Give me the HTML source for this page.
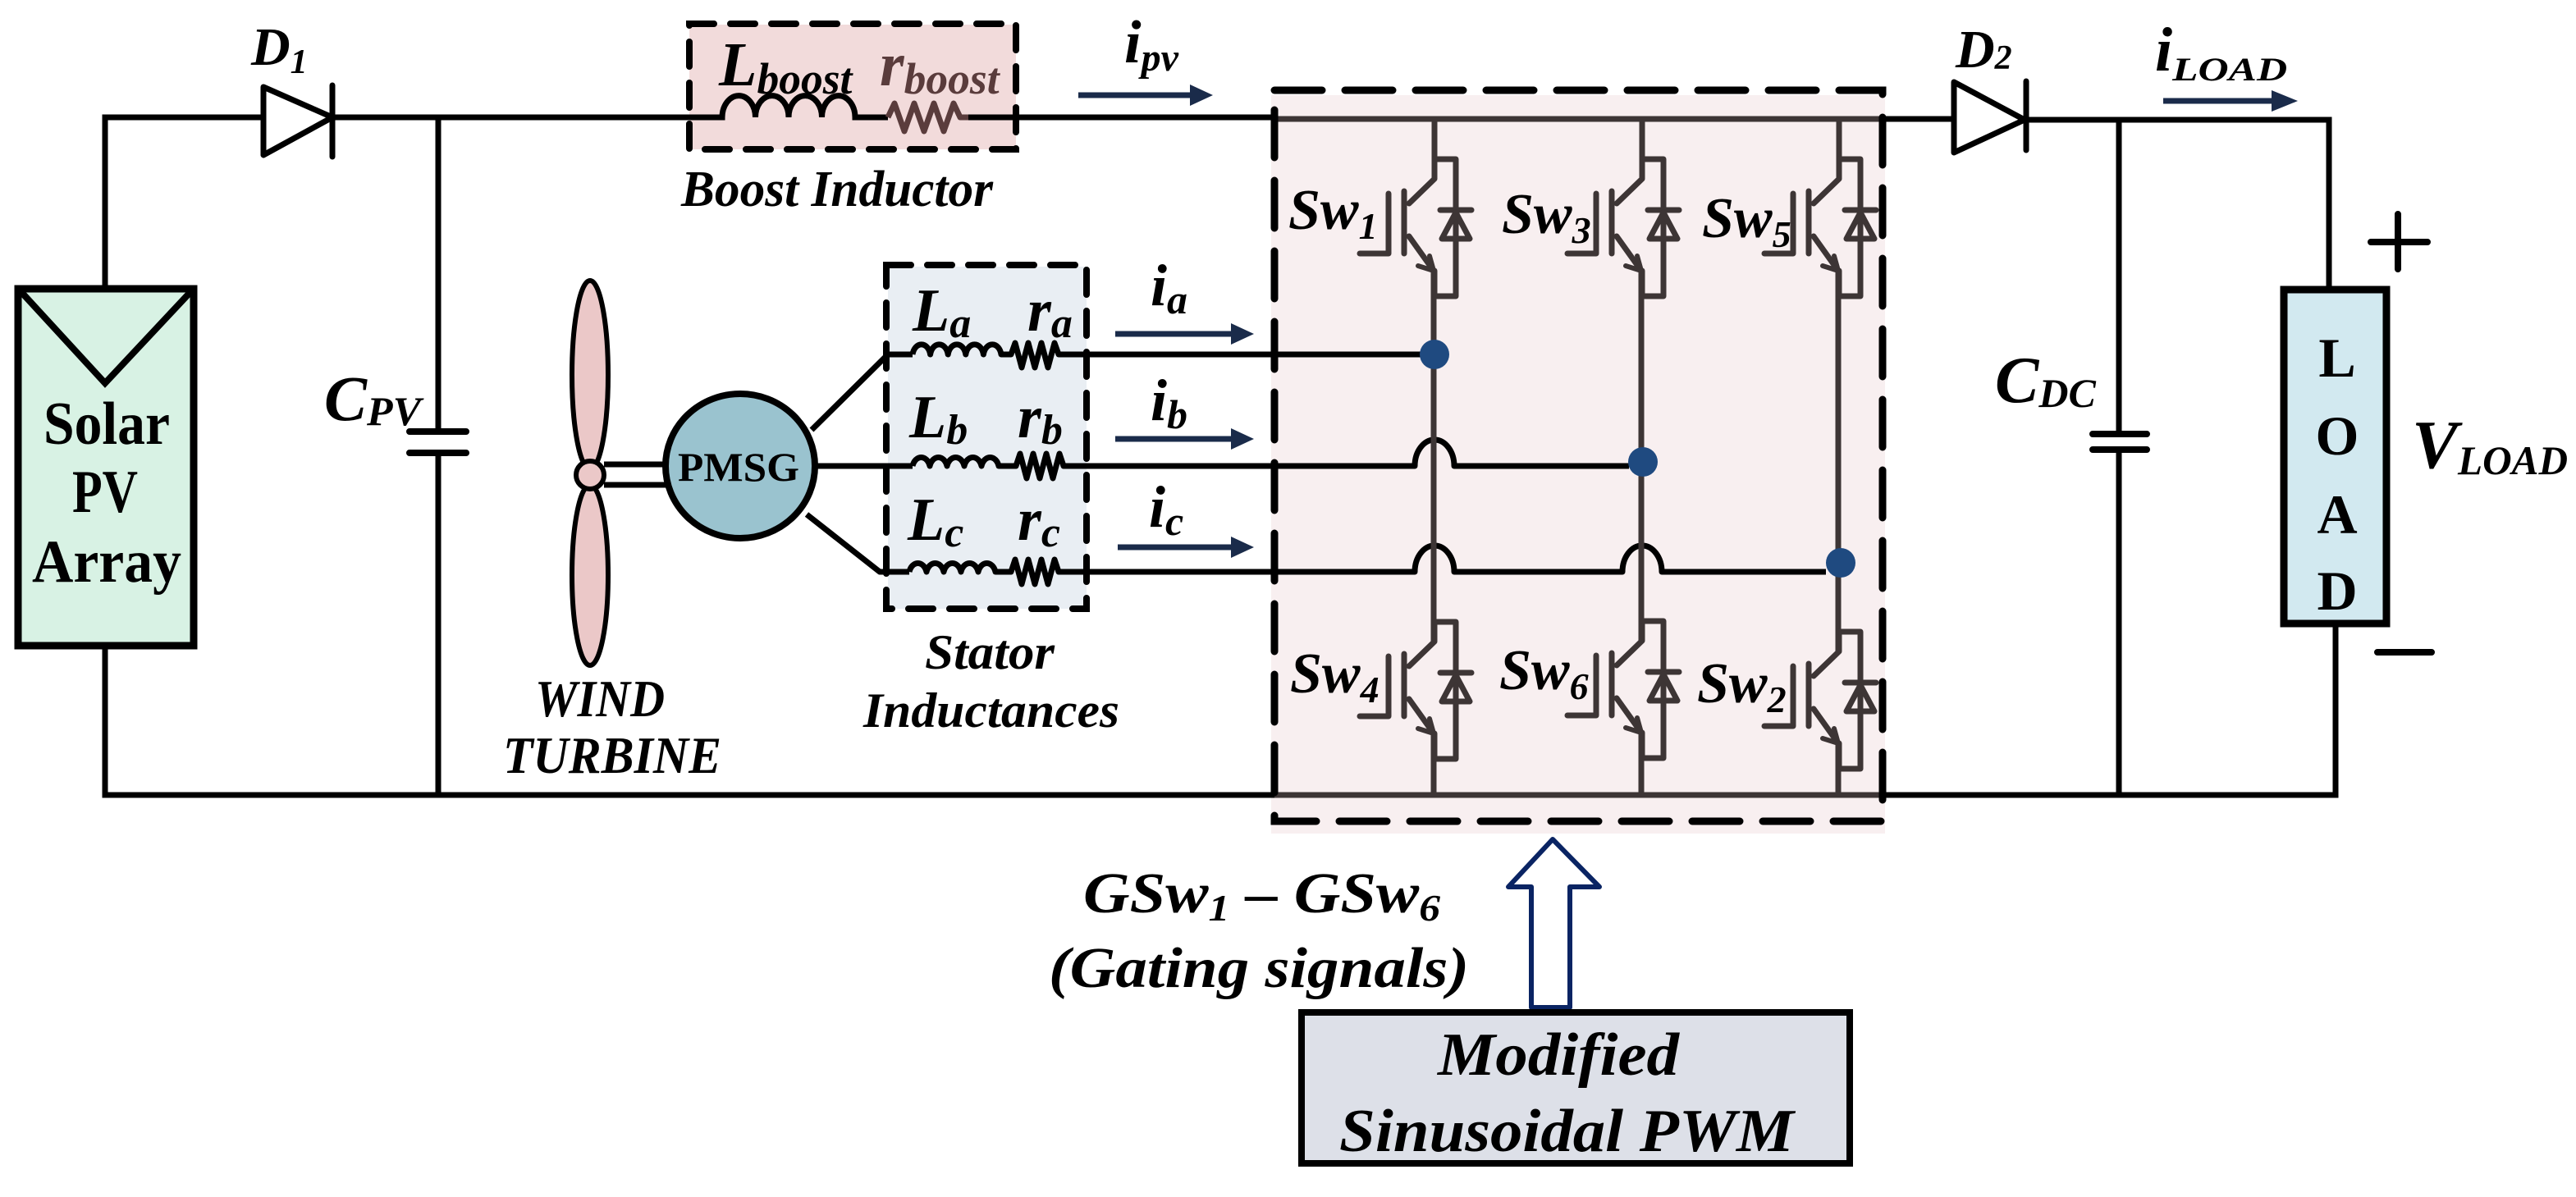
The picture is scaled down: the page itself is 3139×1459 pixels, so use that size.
<!DOCTYPE html>
<html><head><meta charset="utf-8"><style>
html,body{margin:0;padding:0;background:#fff;}
svg{display:block;}
text{font-family:"Liberation Serif",serif;fill:#000;}
text.bi{font-weight:bold;font-style:italic;}
text.i{font-weight:normal;font-style:italic;}
text.b{font-weight:bold;font-style:normal;}
</style></head><body>
<svg width="3139" height="1459" viewBox="0 0 3139 1459" xmlns="http://www.w3.org/2000/svg">
<defs>
<g id="igbt" fill="none" stroke="#3d3535" stroke-width="7" stroke-linecap="round" stroke-linejoin="round">
  <path d="M0 0 V24 L-31 54"/>
  <path d="M-37 39 V115"/>
  <path d="M-91 115 H-56 V42"/>
  <path d="M-31 94 L-1 136"/>
  <path d="M-1 136 L-20 130 M-1 136 L-6 118" stroke-width="6"/>
  <path d="M0 0 H26 V167 H0 V136"/>
  <path d="M7 62 H45"/>
  <path d="M26 65 L43 97 H9 Z"/>
</g>
</defs>

<rect x="1549" y="116" width="748" height="900" fill="#f8eff0"/>
<rect x="840" y="30" width="398" height="152" fill="#f2dbdb"/>
<rect x="1082" y="325" width="242" height="417" fill="#e9eef3"/>

<g fill="none" stroke="#000" stroke-width="7" stroke-linecap="square">
  <path d="M128 350 V143 H321"/>
  <path d="M405 143 H880"/>
  <path d="M1176 143 H1553"/>
  <path d="M2297 145 H2381"/>
  <path d="M2469 146 H2838 V351"/>
  <path d="M128 789 V969 H1553"/>
  <path d="M2297 969 H2846 V762"/>
  <path d="M534 143 V526"/>
  <path d="M534 552 V969"/>
  <path d="M499 526 H568 M499 552 H568" stroke-linecap="round" stroke-width="8"/>
  <path d="M2582 147 V529"/>
  <path d="M2582 548 V969"/>
  <path d="M2550 529 H2616 M2550 548 H2616" stroke-linecap="round" stroke-width="8"/>
</g>

<path d="M321 106 L405 143 L321 189 Z" fill="#fff" stroke="#000" stroke-width="7" stroke-linejoin="round"/>
<path d="M405 104 V191" stroke="#000" stroke-width="7" stroke-linecap="round"/>
<path d="M2381 100 L2467 146 L2381 186 Z" fill="#fff" stroke="#000" stroke-width="7" stroke-linejoin="round"/>
<path d="M2469 99 V183" stroke="#000" stroke-width="7" stroke-linecap="round"/>

<rect x="22" y="352" width="214" height="435" fill="#d8f2e4" stroke="#000" stroke-width="9"/>
<path d="M26 356 L128 467 L232 356" fill="none" stroke="#000" stroke-width="8"/>
<text class="b" x="130" y="541" font-size="74" text-anchor="middle" textLength="154" lengthAdjust="spacingAndGlyphs">Solar</text>
<text class="b" x="128" y="624" font-size="74" text-anchor="middle" textLength="80" lengthAdjust="spacingAndGlyphs">PV</text>
<text class="b" x="130" y="709" font-size="74" text-anchor="middle" textLength="182" lengthAdjust="spacingAndGlyphs">Array</text>

<path d="M880 143 a20 26 0 0 1 40.5 0 a20 26 0 0 1 40.5 0 a20 26 0 0 1 40.5 0 a20 26 0 0 1 40.5 0 H1082" fill="none" stroke="#000" stroke-width="7"/>
<path d="M1082 143 L1090 126 L1102 160 L1114 126 L1126 160 L1138 126 L1150 160 L1162 126 L1170 143 H1180" fill="none" stroke="#5a3c3c" stroke-width="7" stroke-linejoin="round"/>
<rect x="840" y="29" width="398" height="153" fill="none" stroke="#000" stroke-width="8" stroke-dasharray="30 20" stroke-linecap="round"/>
<text class="bi" x="876" y="104" font-size="76" fill="#1a1a1a">L<tspan font-size="54" dy="10" textLength="116" lengthAdjust="spacingAndGlyphs">boost</tspan></text>
<text class="bi" x="1072" y="104" font-size="76" style="fill:#5a3c3c">r<tspan font-size="54" dy="10" textLength="116" lengthAdjust="spacingAndGlyphs">boost</tspan></text>
<text class="bi" x="830" y="251" font-size="62" textLength="380" lengthAdjust="spacingAndGlyphs">Boost Inductor</text>

<text class="bi" x="306" y="79" font-size="66">D<tspan font-size="42" dy="10">1</tspan></text>
<text class="bi" x="395" y="512" font-size="78">C<tspan font-size="50" dy="6" textLength="66" lengthAdjust="spacingAndGlyphs">PV</tspan></text>
<text class="bi" x="1370" y="76" font-size="74">i<tspan font-size="48" dy="10">pv</tspan></text>
<text class="bi" x="2383" y="82" font-size="66">D<tspan font-size="42" dy="2">2</tspan></text>
<text class="bi" x="2626" y="86" font-size="76">i<tspan font-size="40" dy="12" textLength="140" lengthAdjust="spacingAndGlyphs">LOAD</tspan></text>
<text class="bi" x="2431" y="490" font-size="80">C<tspan font-size="50" dy="6">DC</tspan></text>
<text class="bi" x="2939" y="570" font-size="84">V<tspan font-size="50" dy="8" textLength="134" lengthAdjust="spacingAndGlyphs">LOAD</tspan></text>

<g stroke="#1a2b4a" stroke-width="7" fill="#1a2b4a">
  <path d="M1314 116 H1452"/><path d="M1450 103 L1478 116 L1450 129 Z" stroke="none"/>
  <path d="M1359 407 H1502"/><path d="M1500 394 L1528 407 L1500 420 Z" stroke="none"/>
  <path d="M1359 535 H1502"/><path d="M1500 522 L1528 535 L1500 548 Z" stroke="none"/>
  <path d="M1362 667 H1502"/><path d="M1500 654 L1528 667 L1500 680 Z" stroke="none"/>
  <path d="M2636 123 H2772"/><path d="M2768 110 L2800 123 L2768 136 Z" stroke="none"/>
</g>

<g stroke="#000" stroke-width="6" fill="#ebc8c8">
  <ellipse cx="719" cy="457" rx="22" ry="115"/>
  <ellipse cx="719" cy="701" rx="22" ry="110"/>
  <path d="M736 566 H815 M736 591 H815" fill="none" stroke-width="7"/>
  <circle cx="719" cy="579" r="17"/>
</g>
<ellipse cx="902" cy="568" rx="91" ry="88" fill="#9ac3cf" stroke="#000" stroke-width="8"/>
<text class="b" x="900" y="586" font-size="50" text-anchor="middle" textLength="148" lengthAdjust="spacingAndGlyphs">PMSG</text>
<text class="bi" x="731" y="873" font-size="64" text-anchor="middle" textLength="158" lengthAdjust="spacingAndGlyphs">WIND</text>
<text class="bi" x="746" y="942" font-size="64" text-anchor="middle" textLength="266" lengthAdjust="spacingAndGlyphs">TURBINE</text>

<g fill="none" stroke="#000" stroke-width="7" stroke-linejoin="round">
  <path d="M989 524 L1082 432 H1112"/>
  <path d="M993 568 H1112"/>
  <path d="M983 627 L1072 697 H1108"/>
  <path d="M1112 432 a11 15 0 0 1 21.6 0 a11 15 0 0 1 21.6 0 a11 15 0 0 1 21.6 0 a11 15 0 0 1 21.6 0 a11 15 0 0 1 21.6 0 H1232 L1237 418 L1245 448 L1253 418 L1261 448 L1269 418 L1277 448 L1285 418 L1290 432 H1744"/>
  <path d="M1112 568 a11 15 0 0 1 21 0 a11 15 0 0 1 21 0 a11 15 0 0 1 21 0 a11 15 0 0 1 21 0 a11 15 0 0 1 21 0 H1238 L1243 553 L1251 583 L1259 553 L1267 583 L1275 553 L1283 583 L1291 553 L1296 568 H1724 A24 32 0 0 1 1772 568 H1985"/>
  <path d="M1108 697 a11 15 0 0 1 21 0 a11 15 0 0 1 21 0 a11 15 0 0 1 21 0 a11 15 0 0 1 21 0 a11 15 0 0 1 21 0 H1232 L1237 682 L1245 712 L1253 682 L1261 712 L1269 682 L1277 712 L1285 682 L1290 697 H1724 A24 32 0 0 1 1772 697 H1977 A24 32 0 0 1 2025 697 H2225"/>
</g>
<rect x="1080" y="323" width="244" height="419" fill="none" stroke="#000" stroke-width="8" stroke-dasharray="30 20" stroke-linecap="round"/>
<text class="bi" x="1112" y="403" font-size="74">L<tspan font-size="52" dy="8">a</tspan></text>
<text class="bi" x="1252" y="403" font-size="74">r<tspan font-size="52" dy="8">a</tspan></text>
<text class="bi" x="1108" y="533" font-size="74">L<tspan font-size="52" dy="8">b</tspan></text>
<text class="bi" x="1240" y="533" font-size="74">r<tspan font-size="52" dy="8">b</tspan></text>
<text class="bi" x="1106" y="658" font-size="74">L<tspan font-size="52" dy="8">c</tspan></text>
<text class="bi" x="1240" y="658" font-size="74">r<tspan font-size="52" dy="8">c</tspan></text>
<text class="bi" x="1402" y="372" font-size="72">i<tspan font-size="50" dy="10">a</tspan></text>
<text class="bi" x="1402" y="512" font-size="72">i<tspan font-size="50" dy="10">b</tspan></text>
<text class="bi" x="1400" y="642" font-size="72">i<tspan font-size="50" dy="10">c</tspan></text>
<text class="bi" x="1206" y="815" font-size="60" text-anchor="middle" textLength="158" lengthAdjust="spacingAndGlyphs">Stator</text>
<text class="bi" x="1208" y="886" font-size="60" text-anchor="middle" textLength="312" lengthAdjust="spacingAndGlyphs">Inductances</text>

<g fill="none" stroke="#3d3535" stroke-width="7">
  <path d="M1553 145 H2297"/>
  <path d="M1553 969 H2297"/>
  <path d="M1748 145 V194 M1747 330 V782 M1747 894 V969"/>
  <path d="M2001 145 V194 M2000 330 V781 M2000 893 V969"/>
  <path d="M2241 145 V194 M2240 330 V794 M2240 906 V969"/>
</g>
<use href="#igbt" x="1748" y="194"/>
<use href="#igbt" x="2001" y="194"/>
<use href="#igbt" x="2241" y="194"/>
<use href="#igbt" x="1748" y="758"/>
<use href="#igbt" x="2001" y="757"/>
<use href="#igbt" x="2241" y="770"/>
<g fill="#1f4a80">
  <circle cx="1748" cy="432" r="18"/>
  <circle cx="2002" cy="563" r="18"/>
  <circle cx="2243" cy="686" r="18"/>
</g>
<text class="bi" x="1570" y="279" font-size="70">Sw<tspan font-size="46" dy="12">1</tspan></text>
<text class="bi" x="1830" y="284" font-size="70">Sw<tspan font-size="46" dy="12">3</tspan></text>
<text class="bi" x="2074" y="289" font-size="70">Sw<tspan font-size="46" dy="12">5</tspan></text>
<text class="bi" x="1572" y="844" font-size="70">Sw<tspan font-size="46" dy="12">4</tspan></text>
<text class="bi" x="1827" y="840" font-size="70">Sw<tspan font-size="46" dy="12">6</tspan></text>
<text class="bi" x="2068" y="856" font-size="70">Sw<tspan font-size="46" dy="12">2</tspan></text>
<rect x="1553" y="110" width="741" height="891" fill="none" stroke="#000" stroke-width="9" stroke-dasharray="58 28" stroke-linecap="round"/>

<rect x="2783" y="353" width="125" height="407" fill="#d2e9f0" stroke="#000" stroke-width="9"/>
<text class="b" x="2848" y="459" font-size="68" text-anchor="middle">L</text>
<text class="b" x="2848" y="554" font-size="68" text-anchor="middle">O</text>
<text class="b" x="2848" y="650" font-size="68" text-anchor="middle">A</text>
<text class="b" x="2848" y="743" font-size="68" text-anchor="middle">D</text>
<path d="M2889 295 H2958 M2922 261 V328 M2897 795 H2963" stroke="#000" stroke-width="8" stroke-linecap="round"/>

<path d="M1866 1228 V1081 H1838 L1892 1023 L1949 1081 H1913 V1228 Z" fill="#fff" stroke="#0a2463" stroke-width="6" stroke-linejoin="round"/>
<rect x="1586" y="1234" width="668" height="184" fill="#dde0e8" stroke="#000" stroke-width="8"/>
<text class="bi" x="1899" y="1310" font-size="74" text-anchor="middle" textLength="294" lengthAdjust="spacingAndGlyphs">Modified</text>
<text class="bi" x="1909" y="1403" font-size="74" text-anchor="middle" textLength="554" lengthAdjust="spacingAndGlyphs">Sinusoidal PWM</text>
<text class="bi" x="1320" y="1112" font-size="70" textLength="435" lengthAdjust="spacingAndGlyphs">GSw<tspan font-size="46" dy="10">1</tspan><tspan dy="-10"> – GSw</tspan><tspan font-size="46" dy="10">6</tspan></text>
<text class="bi" x="1278" y="1203" font-size="70" textLength="512" lengthAdjust="spacingAndGlyphs">(Gating signals)</text>
</svg>
</body></html>
